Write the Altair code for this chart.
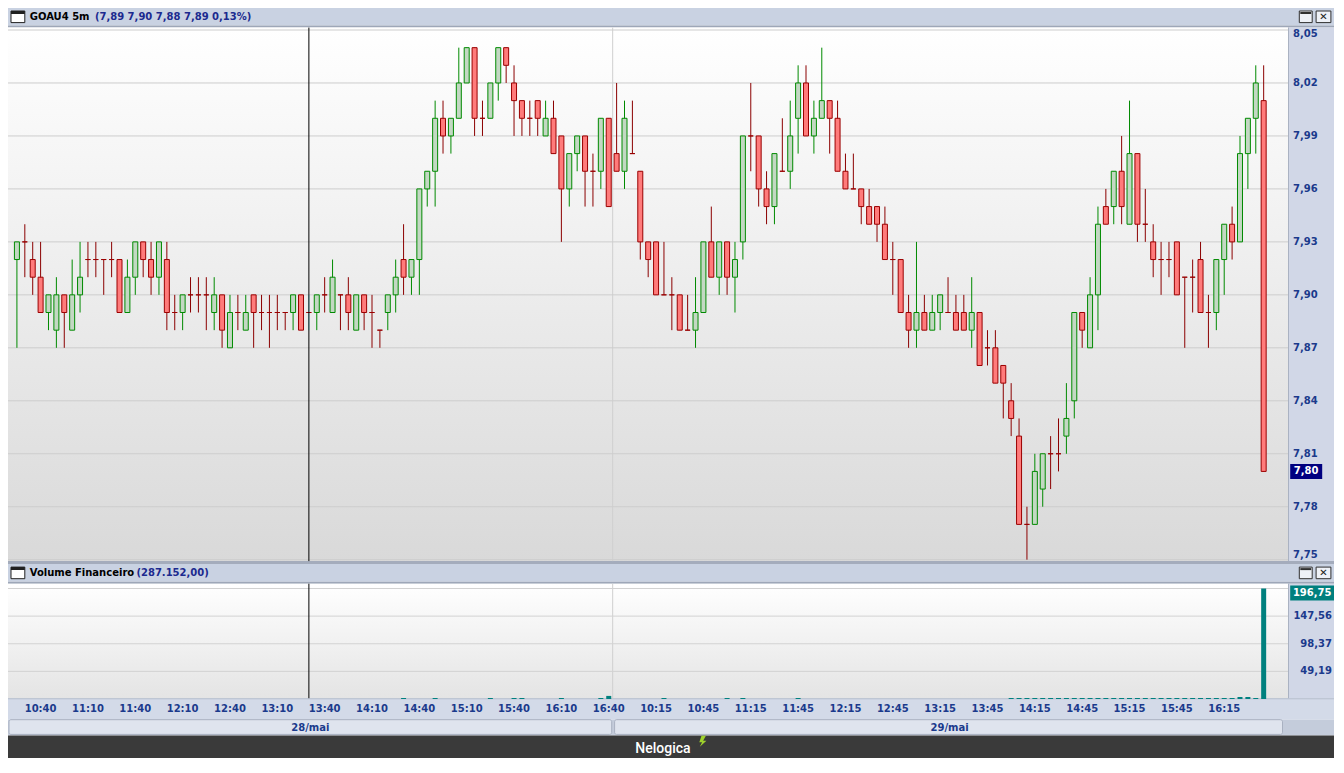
import altair as alt
import pandas as pd

# ---------------- data ----------------
opens = [7.92,7.93,7.92,7.91,7.89,7.88,7.90,7.88,7.90,7.92,
         7.92,7.92,7.92,7.92,7.89,7.91,7.93,7.92,7.91,7.92,
         7.89,7.89,7.90,7.90,7.90,7.89,7.90,7.87,7.89,7.88,
         7.90,7.89,7.89,7.89,7.89,7.89,7.90,7.89,7.89,7.90,
         7.89,7.90,7.90,7.88,7.90,7.89,7.88,7.89,7.90,7.92,
         7.91,7.92,7.96,7.97,8.00,7.99,8.00,8.02,8.04,8.00,
         8.00,8.02,8.04,8.02,8.01,8.00,8.01,7.99,8.00,7.99,
         7.96,7.98,7.99,7.97,7.97,8.00,7.98,7.97,7.98,7.97,
         7.93,7.93,7.90,7.90,7.90,7.88,7.88,7.89,7.93,7.91,
         7.93,7.91,7.93,7.99,7.99,7.96,7.95,7.97,7.97,8.00,
         8.02,7.99,8.00,8.01,8.00,7.97,7.96,7.96,7.95,7.95,
         7.94,7.92,7.92,7.89,7.88,7.89,7.88,7.89,7.89,7.89,
         7.89,7.88,7.89,7.87,7.87,7.86,7.84,7.82,7.77,7.77,
         7.79,7.81,7.81,7.82,7.84,7.89,7.87,7.90,7.95,7.95,
         7.97,7.94,7.98,7.94,7.93,7.92,7.92,7.93,7.91,7.91,
         7.92,7.89,7.89,7.92,7.94,7.93,7.98,8.00,8.01]
highs = [7.93,7.94,7.93,7.93,7.90,7.91,7.90,7.92,7.93,7.93,
         7.93,7.92,7.93,7.92,7.92,7.93,7.93,7.93,7.93,7.93,
         7.90,7.90,7.91,7.91,7.91,7.91,7.90,7.90,7.90,7.90,
         7.90,7.90,7.90,7.90,7.89,7.90,7.90,7.90,7.90,7.91,
         7.92,7.90,7.91,7.90,7.90,7.90,7.88,7.90,7.92,7.94,
         7.92,7.96,7.97,8.01,8.01,8.00,8.04,8.04,8.04,8.01,
         8.02,8.04,8.04,8.03,8.01,8.01,8.01,8.01,8.01,7.99,
         7.98,7.99,7.99,7.98,8.00,8.00,8.02,8.01,8.01,7.97,
         7.93,7.93,7.93,7.91,7.90,7.90,7.91,7.93,7.95,7.93,
         7.93,7.93,7.99,8.02,7.99,7.97,7.98,8.00,8.01,8.03,
         8.03,8.01,8.04,8.01,8.01,7.98,7.98,7.96,7.96,7.95,
         7.95,7.93,7.92,7.90,7.93,7.90,7.90,7.90,7.91,7.90,
         7.90,7.91,7.89,7.88,7.88,7.86,7.85,7.83,7.78,7.81,
         7.81,7.82,7.83,7.85,7.89,7.89,7.91,7.95,7.96,7.97,
         7.99,8.01,7.98,7.96,7.94,7.93,7.93,7.93,7.91,7.92,
         7.93,7.90,7.92,7.94,7.95,7.99,8.00,8.03,8.03]
lows = [7.87,7.91,7.90,7.89,7.88,7.87,7.87,7.88,7.89,7.91,
        7.91,7.90,7.91,7.89,7.89,7.90,7.91,7.90,7.90,7.88,
        7.88,7.88,7.89,7.89,7.88,7.88,7.87,7.87,7.88,7.88,
        7.87,7.88,7.87,7.88,7.88,7.88,7.88,7.88,7.88,7.89,
        7.89,7.88,7.88,7.88,7.88,7.87,7.87,7.88,7.89,7.90,
        7.90,7.90,7.95,7.95,7.98,7.98,8.00,8.02,7.99,7.99,
        8.00,8.01,8.02,7.99,7.99,7.99,7.99,7.99,7.98,7.93,
        7.95,7.97,7.95,7.95,7.96,7.95,7.97,7.96,7.98,7.92,
        7.91,7.90,7.90,7.88,7.88,7.88,7.87,7.89,7.91,7.90,
        7.90,7.89,7.92,7.97,7.95,7.94,7.94,7.97,7.96,7.98,
        7.99,7.98,8.00,7.98,7.97,7.96,7.96,7.94,7.94,7.93,
        7.92,7.90,7.89,7.87,7.87,7.88,7.88,7.88,7.89,7.88,
        7.88,7.87,7.86,7.86,7.85,7.83,7.82,7.77,7.75,7.77,
        7.78,7.79,7.80,7.81,7.83,7.87,7.87,7.88,7.94,7.94,
        7.94,7.94,7.93,7.93,7.91,7.90,7.91,7.90,7.87,7.89,
        7.89,7.87,7.88,7.90,7.92,7.93,7.96,7.98,7.80]
closes = [7.93,7.93,7.91,7.89,7.90,7.90,7.89,7.90,7.91,7.92,
          7.92,7.92,7.92,7.89,7.91,7.93,7.92,7.91,7.93,7.89,
          7.89,7.90,7.90,7.90,7.90,7.90,7.88,7.89,7.89,7.89,
          7.89,7.89,7.89,7.89,7.89,7.90,7.88,7.89,7.90,7.90,
          7.91,7.90,7.89,7.90,7.89,7.89,7.88,7.90,7.91,7.91,
          7.92,7.96,7.97,8.00,7.99,8.00,8.02,8.04,8.00,8.00,
          8.02,8.04,8.03,8.01,8.00,8.00,8.00,8.00,7.98,7.96,
          7.98,7.99,7.97,7.97,8.00,7.95,7.97,8.00,7.98,7.93,
          7.92,7.90,7.90,7.90,7.88,7.88,7.89,7.93,7.91,7.93,
          7.91,7.92,7.99,7.99,7.96,7.95,7.98,7.97,7.99,8.02,
          7.99,8.00,8.01,8.00,7.97,7.96,7.96,7.95,7.94,7.94,
          7.92,7.92,7.89,7.88,7.89,7.88,7.89,7.90,7.89,7.88,
          7.88,7.89,7.86,7.87,7.85,7.85,7.83,7.77,7.77,7.80,
          7.81,7.81,7.81,7.83,7.89,7.88,7.90,7.94,7.94,7.97,
          7.95,7.98,7.94,7.94,7.92,7.92,7.92,7.90,7.91,7.91,
          7.89,7.89,7.92,7.94,7.93,7.98,8.00,8.02,7.80]
volumes = [0,0,0,0,0,0,0,0,0,0,
           0,0,0,0,0,0,0,0,0,0,
           0,0,0,0,0,0,0,0,0,0,
           0,0,0,0,0,0,0,0,0,0,
           0,0,0,0,0,0,0,0,0,1.8,
           0,0,0,1.8,0,0,0,0,0,0,
           1.8,0,0,1.8,1.8,0,0,0,0,1.8,
           0,0,0,0,1.8,5.5,0,0,0,0,
           0,0,1.8,0,0,0,0,0,0,0,
           1.8,0,1.8,0,0,0,0,0,0,1.8,
           0,0,0,0,0,0,0,0,0,0,
           0,0,0,0,0,0,0,0,0,0,
           0,0,0,0,0,0,1.8,1.8,1.8,1.8,
           1.8,1.8,1.8,1.8,1.8,1.8,1.8,1.8,1.8,1.8,
           1.8,1.8,1.8,1.8,1.8,1.8,1.8,1.8,1.8,1.8,
           1.8,1.8,1.8,1.8,1.8,3.6,3.6,1.8,196.75]

price_ticks = [7.75, 7.78, 7.81, 7.84, 7.87, 7.90, 7.93, 7.96, 7.99, 8.02, 8.05]
vol_ticks = [49.19, 98.37, 147.56, 196.75]
time_tick_idx = [3, 9, 15, 21, 27, 33, 39, 45, 51, 57, 63, 69, 75,
                 81, 87, 93, 99, 105, 111, 117, 123, 129, 135, 141, 147, 153]
time_tick_labels = ["10:40", "11:10", "11:40", "12:10", "12:40", "13:10", "13:40",
                    "14:10", "14:40", "15:10", "15:40", "16:10", "16:40",
                    "10:15", "10:45", "11:15", "11:45", "12:15", "12:45", "13:15",
                    "13:45", "14:15", "14:45", "15:15", "15:45", "16:15"]
day_labels = ["28/mai", "29/mai"]
cursor_idx = [37]
day_break = [75.5]
title_main = "GOAU4 5m"
title_vals = "(7,89  7,90  7,88  7,89  0,13%)"
vol_title = "Volume Financeiro"
vol_title_val = "(287.152,00)"

# ---------------- layout helpers ----------------
SX, SY = 0.988, 0.979
def px(x): return round(x * SX, 1)
def py(y): return round(y * SY, 1)

W = 1280
H = 691
TOTAL_W, TOTAL_H = 1326, 750
FONT = "DejaVu Sans"
NAVY_TXT = "#1b3a8c"
BAR_BG = "#c9d2e2"
AX_BG = "#d1d7e7"

xscale = alt.Scale(domain=[-0.497, 160.45], nice=False, zero=False)
pscale = alt.Scale(domain=[7.75, 8.05], range=[551.7, 22.0], nice=False, zero=False)
vscale = alt.Scale(domain=[0, 196.75], range=[691.0, 580.5], nice=False)

X_NO = alt.X("i:Q", scale=xscale, axis=None)

one = alt.Data(values=[{}])

def fmt(v):
    return ("%.2f" % v).replace(".", ",")

def rect(x1, y1, x2, y2, **kw):
    return alt.Chart(one).mark_rect(**kw).encode(
        x=alt.value(x1), x2=alt.value(x2), y=alt.value(y1), y2=alt.value(y2))

def txt(x, y, s, **kw):
    base = dict(font=FONT, fontWeight="bold", fontSize=10, align="left", baseline="middle")
    base.update(kw)
    return alt.Chart(one).mark_text(text=s, **base).encode(x=alt.value(x), y=alt.value(y))

def panel_header(y0, y1, main, val, val_x):
    ym = (y0 + y1) / 2
    return [
        rect(0, y0, TOTAL_W, y1, fill=BAR_BG),
        rect(0, y1, TOTAL_W, y1 + 2, fill="#9ea7b8"),
        rect(px(3), y0 + 3, px(17), y1 - 3, fill="white", stroke="#202020", strokeWidth=1),
        rect(px(3), y0 + 3, px(17), y0 + 6, fill="#202020"),
        txt(px(22), ym + 0.5, main, color="black"),
        txt(val_x, ym + 0.5, val, color="#1c2a8f"),
        rect(px(1307), y0 + 3, px(1320), y1 - 3, fill="#eef1f7", stroke="#303030", strokeWidth=1),
        rect(px(1308), y0 + 4, px(1319), y0 + 6, fill="#303030"),
        rect(px(1324), y0 + 3, px(1339), y1 - 3, fill="#eef1f7", stroke="#303030", strokeWidth=1),
        txt(px(1331.5), ym + 0.5, "\u2715", align="center", fontSize=10, color="#202020"),
    ]

grad_price = alt.LinearGradient(gradient="linear",
                                stops=[alt.GradientStop(color="#ffffff", offset=0),
                                       alt.GradientStop(color="#d9d9d9", offset=1)],
                                x1=0, x2=0, y1=0, y2=1)
grad_vol = alt.LinearGradient(gradient="linear",
                              stops=[alt.GradientStop(color="#ffffff", offset=0),
                                     alt.GradientStop(color="#e4e4e4", offset=1)],
                              x1=0, x2=0, y1=0, y2=1)

# ---------------- frame / backgrounds ----------------
bg = []
bg += panel_header(py(0), py(18), title_main, title_vals, px(88))
bg.append(rect(0, py(20), W, py(565), fill=grad_price))
bg.append(rect(W, py(20), TOTAL_W, py(565), fill=AX_BG))
bg.append(rect(0, py(565), TOTAL_W, py(568), fill="#a4acbc"))
bg += panel_header(py(568), py(586), vol_title, vol_title_val, px(130))
bg.append(rect(0, py(588), W, py(705), fill=grad_vol))
bg.append(rect(W, py(588), TOTAL_W, py(705), fill=AX_BG))
bg.append(rect(0, py(705), TOTAL_W, py(727), fill="#d3dae8"))
bg.append(rect(0, py(705), TOTAL_W, py(706), fill="#b4bccb"))
bg.append(rect(0, py(727), TOTAL_W, py(743), fill="#c4ccdb"))
bg.append(rect(px(1), py(727), px(611), py(742), fill="#dfe4ee", stroke="#a9b1c1",
               strokeWidth=1, cornerRadius=2))
bg.append(rect(px(614), py(727), px(1290), py(742), fill="#dfe4ee", stroke="#a9b1c1",
               strokeWidth=1, cornerRadius=2))
bg.append(rect(0, py(743), TOTAL_W, TOTAL_H, fill="#3a3a3a"))
bg.append(rect(W, py(20), W + 1, py(565), fill="#aab2c2"))
bg.append(rect(W, py(588), W + 1, py(705), fill="#aab2c2"))

# ---------------- price panel ----------------
n = len(opens)
df = pd.DataFrame({"i": list(range(n)), "o": opens, "h": highs, "l": lows, "c": closes})
df["dir"] = ["up" if c > o else "down" for o, c in zip(opens, closes)]
df["kind"] = ["sel" if i in cursor_idx else d for i, d in zip(df["i"], df["dir"])]

PY_NO = lambda f: alt.Y(f, scale=pscale, axis=None)

pt_df = pd.DataFrame({"t": price_ticks, "lbl": [fmt(t) for t in price_ticks]})
pgrid = alt.Chart(pt_df).mark_rule(color="#cdcdcd", strokeWidth=1).encode(
    y=PY_NO("t:Q"), x=alt.value(0), x2=alt.value(W))

label_style = dict(font=FONT, fontWeight="bold", fontSize=10, color=NAVY_TXT)
plab_mid = alt.Chart(pt_df.iloc[1:-1]).mark_text(align="left", baseline="middle", **label_style).encode(
    y=PY_NO("t:Q"), x=alt.value(W + 5), text="lbl:N")
plab_top = alt.Chart(pt_df.iloc[-1:]).mark_text(align="left", baseline="top", dy=-1, **label_style).encode(
    y=PY_NO("t:Q"), x=alt.value(W + 5), text="lbl:N")
plab_bot = alt.Chart(pt_df.iloc[:1]).mark_text(align="left", baseline="bottom", **label_style).encode(
    y=PY_NO("t:Q"), x=alt.value(W + 5), text="lbl:N")

wicks = alt.Chart(df).mark_rule(strokeWidth=1).encode(
    x=X_NO,
    y=PY_NO("l:Q"),
    y2="h:Q",
    color=alt.Color("kind:N", legend=None,
                    scale=alt.Scale(domain=["up", "down", "sel"],
                                    range=["#008a00", "#8b0000", "#7fe9f2"])))

bodies = alt.Chart(df).mark_bar(size=5, strokeWidth=1).encode(
    x=X_NO,
    y=PY_NO("o:Q"),
    y2="c:Q",
    fill=alt.Fill("dir:N", legend=None,
                  scale=alt.Scale(domain=["up", "down"], range=["#c3d8c3", "#ff7b7b"])),
    stroke=alt.Stroke("dir:N", legend=None,
                      scale=alt.Scale(domain=["up", "down"], range=["#008a00", "#9a0000"])))

last_df = pd.DataFrame({"p": [closes[-1]], "lbl": [fmt(closes[-1])]})
pbox = alt.Chart(last_df).mark_point(shape="M-1,-0.47H1V0.47H-1Z", size=1024, filled=True,
                                     opacity=1, fill="#000080", strokeWidth=0).encode(
    x=alt.value(px(1314)), y=PY_NO("p:Q"))
ptext = alt.Chart(last_df).mark_text(font=FONT, fontWeight="bold", fontSize=10, color="white",
                                     align="center", baseline="middle").encode(
    x=alt.value(px(1314)), y=PY_NO("p:Q"), text="lbl:N")

price_layer = alt.layer(pgrid, wicks, bodies, plab_mid, plab_top, plab_bot, pbox, ptext)

# ---------------- volume panel ----------------
VY_NO = lambda f: alt.Y(f, scale=vscale, axis=None)
vdf = pd.DataFrame({"i": list(range(n)), "v": volumes})
vt_df = pd.DataFrame({"t": vol_ticks, "lbl": [fmt(t) for t in vol_ticks]})
vgrid = alt.Chart(vt_df).mark_rule(color="#d2d2d2", strokeWidth=1).encode(
    y=VY_NO("t:Q"), x=alt.value(0), x2=alt.value(W))
vlab = alt.Chart(vt_df.iloc[:-1]).mark_text(align="right", baseline="middle", **label_style).encode(
    y=VY_NO("t:Q"), x=alt.value(W + 44), text="lbl:N")
vbars = alt.Chart(vdf).mark_bar(size=5, color="#00807e").encode(
    x=X_NO, y=alt.Y("v:Q", scale=vscale, axis=None, stack=None))
vlast = pd.DataFrame({"v": [volumes[-1]], "lbl": [fmt(volumes[-1])]})
vbox = alt.Chart(vlast).mark_point(shape="M-1,-0.34H1V0.34H-1Z", size=1936, filled=True,
                                   opacity=1, fill="#00807e", strokeWidth=0, yOffset=4.5).encode(
    x=alt.value(px(1320)), y=VY_NO("v:Q"))
vtext = alt.Chart(vlast).mark_text(font=FONT, fontWeight="bold", fontSize=10, color="white",
                                   align="center", baseline="middle", yOffset=4.5).encode(
    x=alt.value(px(1320)), y=VY_NO("v:Q"), text="lbl:N")
vol_layer = alt.layer(vgrid, vbars, vlab, vbox, vtext)

# ---------------- time labels ----------------
tl_df = pd.DataFrame({"i": time_tick_idx, "lbl": time_tick_labels})
tlabels = alt.Chart(tl_df).mark_text(align="center", baseline="middle", **label_style).encode(
    x=X_NO, y=alt.value(py(716)), text="lbl:N")

# ---------------- vertical lines ----------------
sep_df = pd.DataFrame({"i": day_break})
cur_df = pd.DataFrame({"i": cursor_idx})
vlines = []
for y0, y1 in [(py(20), py(565)), (py(588), py(705))]:
    vlines.append(alt.Chart(sep_df).mark_rule(color="#cfcfcf", strokeWidth=1).encode(
        x=X_NO, y=alt.value(y0), y2=alt.value(y1)))
cursor_lines = []
for y0, y1 in [(py(20), py(565)), (py(588), py(705))]:
    cursor_lines.append(alt.Chart(cur_df).mark_rule(color="#000000", strokeWidth=1).encode(
        x=X_NO, y=alt.value(y0), y2=alt.value(y1)))

# ---------------- foreground text ----------------
fg = [
    tlabels,
    txt(px(306), py(735), day_labels[0], align="center", fontSize=10, color=NAVY_TXT),
    txt(px(953), py(735), day_labels[1], align="center", fontSize=10, color=NAVY_TXT),
    txt(px(663), py(760) - 3, "Nelogica", align="center", font="Roboto", fontWeight=500,
        fontSize=14, color="white"),
    alt.Chart(one).mark_point(shape="M-0.2,-1L0.6,-1L0.1,-0.1L0.7,-0.1L-0.5,1L-0.1,0.2L-0.6,0.2Z",
                              size=120, filled=True, opacity=1, fill="#9fd22c", strokeWidth=0).encode(
        x=alt.value(px(703)), y=alt.value(py(752) - 3)),
]

chart = alt.layer(*bg, *vlines, price_layer, vol_layer, *cursor_lines, *fg).resolve_scale(
    y="independent"
).properties(
    width=W, height=H,
    padding={"left": 0, "top": 0, "right": TOTAL_W - W, "bottom": TOTAL_H - H},
    autosize=alt.AutoSizeParams(type="none"),
    background="white",
).configure_view(stroke=None)

chart.save("out.html", embed_options={"renderer": "svg", "actions": False})
